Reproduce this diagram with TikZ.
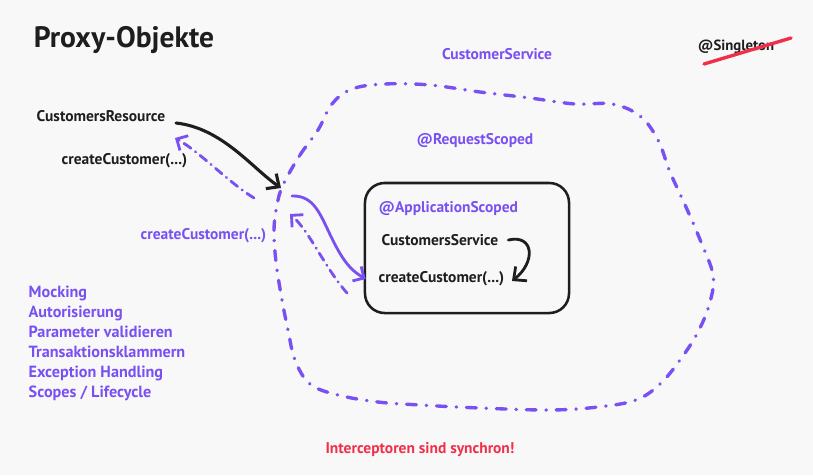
\documentclass[tikz,border=0pt]{standalone}
\usepackage{fontspec}
\setmainfont{PT Sans}
\usetikzlibrary{arrows.meta, positioning, calc}
\usepackage{xcolor}
\definecolor{bgpaper}{HTML}{F8F8F8}
\definecolor{ink}{HTML}{1E1E1E}
\definecolor{scopeviolet}{HTML}{7950F2}
\definecolor{alertred}{HTML}{F0304A}
\newcommand{\handfont}{\bfseries\fontsize{11}{13}\selectfont}
\tikzstyle{blacktxt}    = [font=\handfont, text=ink, inner sep=1pt]
\tikzstyle{violettxt}   = [font=\handfont, text=scopeviolet, inner sep=1pt]
\tikzstyle{redtxt}      = [font=\handfont, text=alertred, inner sep=1pt]
\tikzstyle{appbox}      = [draw=ink, line width=1.8pt, rounded corners=14pt,
                           minimum width=5.1cm, minimum height=3.25cm]
\tikzstyle{scopeloop}   = [line width=2.4pt, draw=scopeviolet, line cap=round,
                           dash pattern=on 7pt off 7pt on 0.3pt off 7pt]
\tikzstyle{callarrow}   = [line width=2.2pt, draw=ink, line cap=round,
                           -{Straight Barb[length=7pt, width=13pt]}]
\tikzstyle{proxyarrow}  = [line width=2pt, draw=scopeviolet, line cap=round,
                           -{Straight Barb[length=6pt, width=12pt]}]
\tikzstyle{returnarrow} = [line width=2pt, draw=scopeviolet, line cap=round,
                           dash pattern=on 6pt off 4pt on 0.3pt off 4pt,
                           -{Straight Barb[length=6pt, width=12pt]}]
\tikzstyle{strike}      = [line width=2.4pt, draw=alertred, line cap=round]
\begin{document}
\begin{tikzpicture}[x=0.025cm, y=-0.025cm]

  \fill[bgpaper] (0,0) rectangle (813,475);

  % --- Titel ---
  \node (title) [blacktxt, font=\bfseries\fontsize{21}{25}\selectfont] at (124,40) {Proxy-Objekte};
  \node (singleton) [blacktxt, font=\bfseries\fontsize{10.5}{12}\selectfont] at (736,47) {@Singleton};
  \coordinate (strikeA) at (704,64);
  \coordinate (strikeB) at (791,38);

  % --- Aufrufer ---
  \node (resource)  [blacktxt, anchor=west] at (35,116) {CustomersResource};
  \node (rescall)   [blacktxt, anchor=west] at (60,161) {createCustomer(...)};
  \node (proxycall) [violettxt, anchor=west] at (139,236) {createCustomer(...)};
  \node (features)  [violettxt, anchor=north west, align=left,
                     font=\bfseries\fontsize{11.5}{14.3}\selectfont] at (27,284)
                    {Mocking\\Autorisierung\\Parameter validieren\\Transaktionsklammern\\Exception Handling\\Scopes / Lifecycle};
  \coordinate (resout) at (176,123);
  \coordinate (resin)  at (175,138);

  % --- Proxy ---
  \node (proxyname) [violettxt] at (497,54) {CustomerService};
  \node (reqscope)  [violettxt] at (475,141) {@RequestScoped};
  \coordinate (proxy)     at (281,188);
  \coordinate (proxyout)  at (292,196);
  \coordinate (proxyback) at (254,198);
  \coordinate (proxyin)   at (290,214);
  \draw[scopeloop] plot[smooth cycle, tension=0.6] coordinates {
    (283,185) (300,155) (318,130) (332,104) (352,89) (385,84) (430,85)
    (480,92) (530,98) (575,104) (612,104) (640,116) (658,140) (670,172)
    (686,207) (701,242) (713,275) (710,302) (698,332) (680,360) (660,384)
    (636,400) (598,407) (550,410) (480,408) (420,405) (378,402) (338,395)
    (310,384) (295,360) (288,330) (282,300) (276,262) (274,230) (277,205)};

  % --- Bean ---
  \node (bean)     [appbox] at (467,248) {};
  \node (appscope) [violettxt, anchor=west] at (377,209) {@ApplicationScoped};
  \node (service)  [blacktxt, anchor=west] at (380,240) {CustomersService};
  \node (create)   [blacktxt, anchor=west] at (377,279) {createCustomer(...)};
  \coordinate (beanback) at (347,293);

  \node (sync) [redtxt] at (420,450) {Interceptoren sind synchron!};

  % Pfeile
  \draw[strike] (strikeA) -- (strikeB);
  \draw[callarrow] (resout) .. controls (222,128) and (252,168) .. (proxy);
  \draw[returnarrow] (proxyback) .. controls (228,182) and (200,152) .. (resin);
  \draw[proxyarrow] (proxyout) .. controls (318,195) and (322,222) .. (338,250)
                    .. controls (347,266) and (354,272) .. ([xshift=-8]create.west);
  \draw[returnarrow] (beanback) .. controls (325,268) and (310,232) .. (proxyin);
  \draw[callarrow, line width=2pt] ([xshift=6]service.east) .. controls (534,234) and (536,262) .. (512,281);

\end{tikzpicture}
\end{document}
